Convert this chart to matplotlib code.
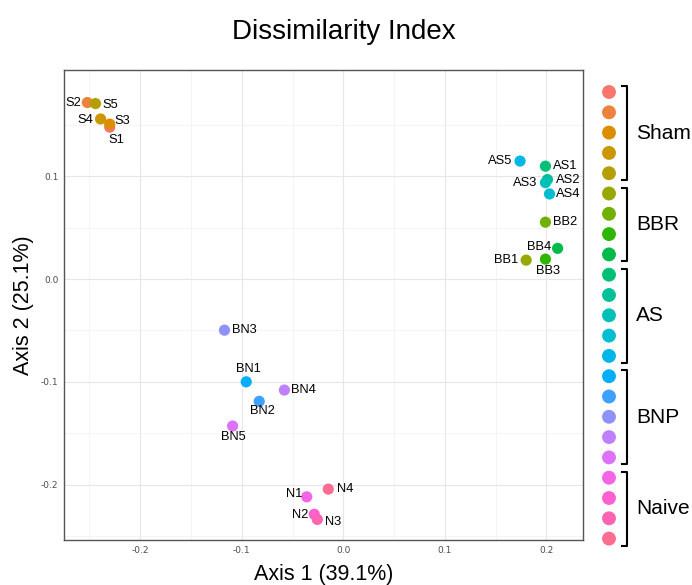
import numpy as np
import matplotlib.pyplot as plt

# sample coordinates
samples = ["S1", "S2", "S3", "S4", "S5",
           "BB1", "BB2", "BB3", "BB4",
           "AS1", "AS2", "AS3", "AS4", "AS5",
           "BN1", "BN2", "BN3", "BN4", "BN5",
           "N1", "N2", "N3", "N4"]
axis1 = [-0.230, -0.252, -0.230, -0.239, -0.244,
         0.180, 0.199, 0.199, 0.211,
         0.199, 0.201, 0.199, 0.203, 0.174,
         -0.0956, -0.0828, -0.117, -0.058, -0.109,
         -0.036, -0.0286, -0.0256, -0.0148]
axis2 = [0.148, 0.172, 0.151, 0.156, 0.171,
         0.0185, 0.0555, 0.0195, 0.030,
         0.110, 0.097, 0.094, 0.083, 0.115,
         -0.100, -0.119, -0.0497, -0.108, -0.143,
         -0.212, -0.229, -0.234, -0.2045]
groups = ["Sham", "BBR", "AS", "BNP", "Naive"]
group_sizes = [5, 4, 5, 5, 4]

# label offsets in pixels (dx, dy)
label_off = [(7, -13), (-14, 0), (13, 3), (-15, -1), (15, -1),
             (-20, 0), (20, 0), (3, -12), (-18, 1),
             (20, 0), (21, 0), (-20, 0), (19, 0), (-20, 0),
             (2, 13), (3, -10), (20, 0), (19, 0), (1, -11),
             (-13, 3), (-14, -1), (16, -3), (17, 0)]


def hue_pal(n, l=65, c=100):
    # ggplot2 style hue palette (polar Luv -> sRGB)
    hs = np.linspace(15, 375, n + 1)[:-1]
    Xn, Yn, Zn = 95.047, 100.0, 108.883
    un = 4 * Xn / (Xn + 15 * Yn + 3 * Zn)
    vn = 9 * Yn / (Xn + 15 * Yn + 3 * Zn)
    M = np.array([[3.2404542, -1.5371385, -0.4985314],
                  [-0.9692660, 1.8760108, 0.0415560],
                  [0.0556434, -0.2040259, 1.0572252]])
    out = []
    for h in hs:
        u = c * np.cos(np.radians(h))
        v = c * np.sin(np.radians(h))
        Y = Yn * ((l + 16) / 116) ** 3
        up = u / (13 * l) + un
        vp = v / (13 * l) + vn
        X = Y * 9 * up / (4 * vp)
        Z = Y * (12 - 3 * up - 20 * vp) / (4 * vp)
        rgb = M @ (np.array([X, Y, Z]) / 100)
        rgb = np.where(rgb <= 0.0031308, 12.92 * rgb,
                       1.055 * np.abs(rgb) ** (1 / 2.4) - 0.055)
        out.append(tuple(np.clip(rgb, 0, 1)))
    return out


cols = hue_pal(len(samples))

fig = plt.figure(figsize=(6.92, 5.85), dpi=100)
ax = fig.add_axes([0.0925, 0.077, 0.75, 0.803])

ax.scatter(axis1, axis2, c=cols, s=65, edgecolors='none', zorder=3)
for i, name in enumerate(samples):
    dx, dy = label_off[i]
    ax.annotate(name, (axis1[i], axis2[i]), xytext=(dx * 0.72, dy * 0.72),
                textcoords='offset points', ha='center', va='center',
                fontsize=9.3, family='Liberation Sans', zorder=4)

ax.set_xlim(-0.275, 0.236)
ax.set_ylim(-0.254, 0.2035)
ax.set_xticks([-0.2, -0.1, 0.0, 0.1, 0.2])
ax.set_yticks([-0.2, -0.1, 0.0, 0.1])
ax.set_xticks(np.arange(-0.25, 0.25, 0.05), minor=True)
ax.set_yticks(np.arange(-0.25, 0.2, 0.05), minor=True)
ax.xaxis.set_major_formatter(plt.FuncFormatter(lambda v, p: f"{v:.1f}"))
ax.yaxis.set_major_formatter(plt.FuncFormatter(lambda v, p: f"{v:.1f}"))
ax.grid(True, which='major', color='#e6e6e6', lw=0.8)
ax.grid(True, which='minor', color='#f2f2f2', lw=0.6)
ax.set_axisbelow(True)
ax.tick_params(which='both', length=0, labelsize=6.5, labelcolor='#4d4d4d', pad=4)
for s in ax.spines.values():
    s.set_color('#555555')
    s.set_linewidth(1.0)

ax.set_xlabel("Axis 1 (39.1%)", fontsize=15.5, family='Liberation Sans', labelpad=7)
ax.set_ylabel("Axis 2 (25.1%)", fontsize=15.5, family='Liberation Sans', labelpad=5)
fig.text(0.497, 0.945, "Dissimilarity Index", ha='center', va='center',
         fontsize=20, family='Liberation Sans')

# legend column with brackets
lax = fig.add_axes([0, 0, 1, 1], facecolor='none')
lax.set_xlim(0, 692)
lax.set_ylim(585, 0)
lax.axis('off')
ys = 92 + np.arange(len(samples)) * 20.3
lax.scatter([609] * len(samples), ys, c=cols, s=100, edgecolors='none')
start = 0
for g, n in zip(groups, group_sizes):
    top = ys[start] - 6
    bot = ys[start + n - 1] + 7
    lax.plot([622, 627, 627, 622], [top, top, bot, bot], color='black', lw=1.5)
    lax.text(636, (top + bot) / 2, g, ha='left', va='center',
             fontsize=15, family='Liberation Sans')
    start += n

fig.savefig("out.png", dpi=100)
